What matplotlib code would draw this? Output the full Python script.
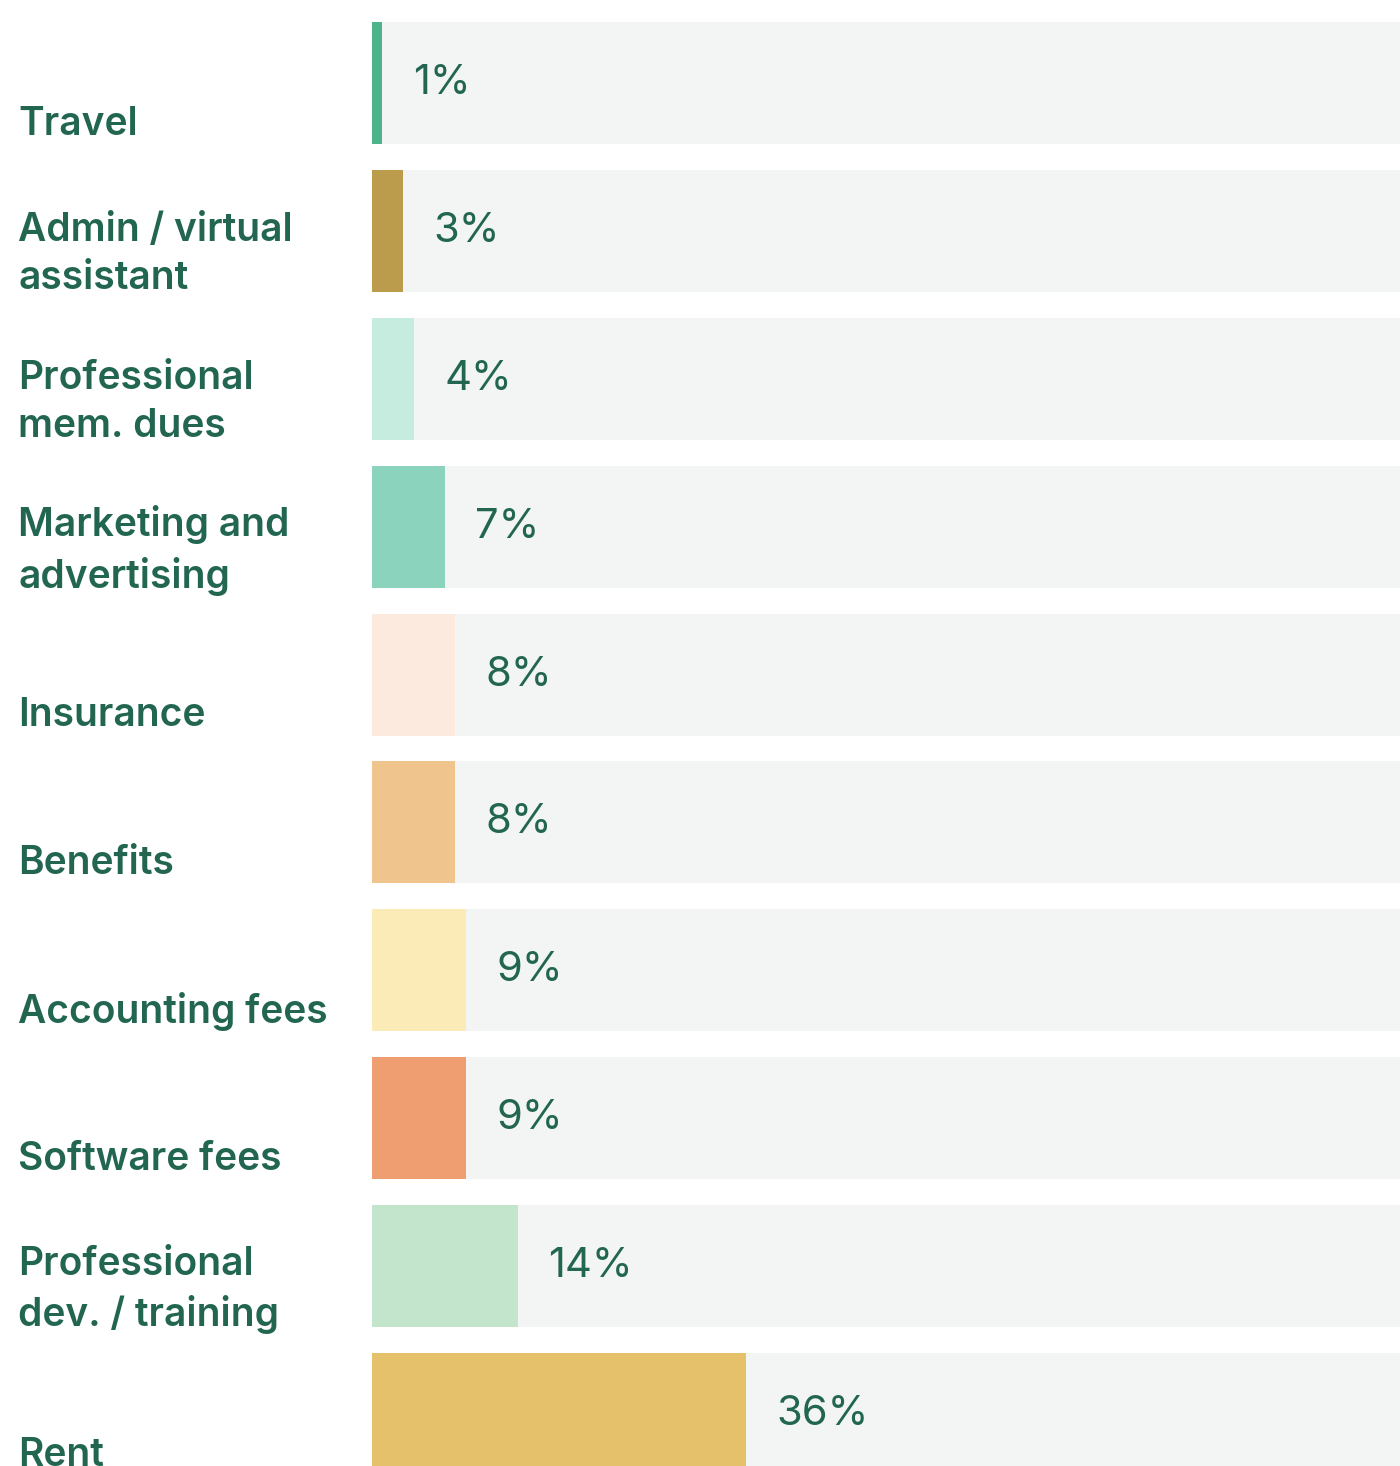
import matplotlib.pyplot as plt
import matplotlib.transforms as mtransforms
import numpy as np

categories = ["Travel", "Admin / virtual\nassistant", "Professional\nmem. dues",
              "Marketing and\nadvertising", "Insurance", "Benefits",
              "Accounting fees", "Software fees", "Professional\ndev. / training", "Rent"]
values = [1, 3, 4, 7, 8, 8, 9, 9, 14, 36]
colors = ["#4db38b", "#bb9b4c", "#c6ece0", "#8bd3bd", "#fdeadf", "#efc48d",
          "#fbebb6", "#ef9e72", "#c2e5cc", "#e4c16a"]

text_color = "#226651"
track_color = "#f3f5f4"

plt.rcParams['font.family'] = ['Inter', 'DejaVu Sans']

fig = plt.figure(figsize=(14, 14.66), dpi=100)
ax = fig.add_axes([372 / 1400, 0, 1 - 372 / 1400, 1])

y = np.arange(len(categories))
ax.barh(y, [100] * len(y), height=0.825, color=track_color, linewidth=0)
ax.barh(y, values, height=0.825, color=colors, linewidth=0)

ax.set_xlim(0, 98.9)
ax.set_ylim(9.351, -0.561)
ax.axis('off')

# percentage labels
for yi, v in zip(y, values):
    ax.annotate(f"{v}%", (v, yi), xytext=(22, 0), textcoords='offset points',
                va='center', ha='left', fontsize=30, color=text_color)

# category labels on the left
trans = mtransforms.blended_transform_factory(fig.transFigure, ax.transData)
for yi, lab in zip(y, categories):
    off = 0.16 if "\n" in lab else 0.28
    ax.text(18 / 1400, yi + off, lab, transform=trans, ha='left', va='center',
            fontsize=28, fontweight='semibold', color=text_color, linespacing=1.4)

fig.savefig("out.png", dpi=100, facecolor="white")
